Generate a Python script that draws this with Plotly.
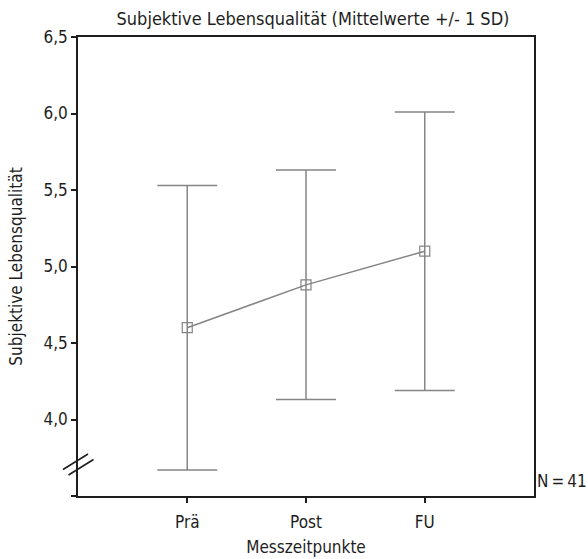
import plotly.graph_objects as go

# Measurement points and their means / standard deviations
zeitpunkte = ["Prä", "Post", "FU"]
mittelwerte = [4.60, 4.88, 5.10]
sd = [0.93, 0.75, 0.91]

# Axis ticks (the 3,5 tick is drawn without a label, below the axis break)
y_tickvals = [3.5, 4.0, 4.5, 5.0, 5.5, 6.0, 6.5]
y_ticktext = ["", "4,0", "4,5", "5,0", "5,5", "6,0", "6,5"]

FONT = "DejaVu Sans Condensed, Roboto, sans-serif"
FS = 17
INK = "#1e1e1e"
GREY = "#858585"

fig = go.Figure()
fig.add_trace(go.Scatter(
    x=[1, 2, 3],
    y=mittelwerte,
    mode="lines+markers",
    line=dict(color=GREY, width=1.5),
    marker=dict(symbol="square-open", size=10, color=GREY,
                line=dict(width=1.2, color=GREY)),
    error_y=dict(type="data", array=sd, visible=True,
                 color=GREY, thickness=1.5, width=30),
    showlegend=False,
    hoverinfo="skip",
))

fig.update_layout(
    width=588, height=559,
    margin=dict(l=78, r=54, t=37, b=63),
    paper_bgcolor="white",
    plot_bgcolor="white",
    font=dict(family=FONT, size=FS, color=INK),
    separators=", ",
    title=dict(text="Subjektive Lebensqualität (Mittelwerte +/- 1 SD)",
               x=313 / 588, xanchor="center", y=1 - 19 / 559, yanchor="middle",
               font=dict(family=FONT, size=18, color=INK)),
    xaxis=dict(
        range=[0.08, 3.92],
        automargin=False,
        tickvals=[1, 2, 3], ticktext=zeitpunkte,
        ticks="outside", ticklen=5, tickwidth=1.5, tickcolor=INK,
        ticklabelstandoff=5,
        showline=True, linecolor=INK, linewidth=1.6, mirror=True,
        showgrid=False, zeroline=False,
        title=dict(text="Messzeitpunkte", standoff=10,
                   font=dict(family=FONT, size=FS, color=INK)),
        tickfont=dict(family=FONT, size=FS, color=INK),
    ),
    yaxis=dict(
        range=[3.5, 6.5],
        automargin=False,
        tickvals=y_tickvals, ticktext=y_ticktext,
        ticks="outside", ticklen=5, tickwidth=1.5, tickcolor=INK,
        showline=True, linecolor=INK, linewidth=1.6, mirror=True,
        showgrid=False, zeroline=False,
        title=dict(text="Subjektive Lebensqualität", standoff=17,
                   font=dict(family=FONT, size=FS, color=INK)),
        tickfont=dict(family=FONT, size=FS, color=INK),
    ),
)

# Axis break marks on the y axis
pw, ph = 588 - 78 - 54, 559 - 37 - 63


def px(xp, yp):
    return (xp - 78) / pw, (559 - 63 - yp) / ph


for (x0, y0), (x1, y1) in [((63.0, 469.5), (88.0, 454.0)),
                           ((68.5, 475.0), (93.5, 459.5))]:
    a0, b0 = px(x0, y0)
    a1, b1 = px(x1, y1)
    fig.add_shape(type="line", xref="paper", yref="paper",
                  x0=a0, y0=b0, x1=a1, y1=b1,
                  line=dict(color=INK, width=1.6))

fig.add_annotation(text="N\u2009=\u200941", xref="paper", yref="paper",
                   x=px(536, 0)[0], y=px(0, 481)[1], xanchor="left", yanchor="middle",
                   xshift=0, showarrow=False, borderpad=0,
                   font=dict(family=FONT, size=FS, color=INK))

fig.write_html("out.html")
